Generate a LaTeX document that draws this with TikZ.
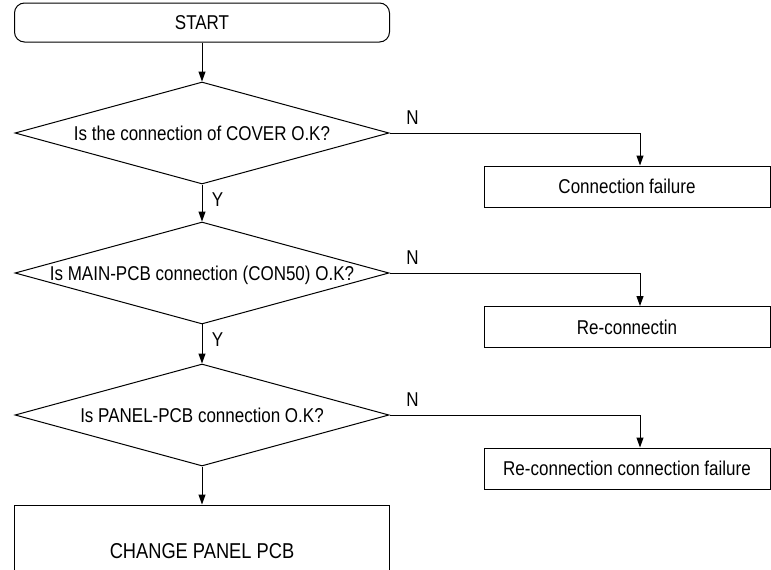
\documentclass[tikz,border=0pt]{standalone}
\usepackage{fontspec}
\setmainfont{Liberation Sans}[FakeStretch=0.85]
\usetikzlibrary{shapes.geometric, arrows.meta, positioning}

\begin{document}
\begin{tikzpicture}[x=1pt, y=-1pt, line width=1pt,
    font=\fontsize{20}{24}\selectfont,
    arr/.style={-{Triangle[length=10pt,width=7pt]}},
    terminal/.style={draw, rectangle, rounded corners=10pt, minimum width=375pt, minimum height=39pt, inner sep=0pt},
    decision/.style={draw, diamond, aspect=3.66, minimum width=374pt, minimum height=102pt, inner sep=0pt, text height=14pt, text depth=0pt},
    action/.style={draw, rectangle, minimum width=286pt, minimum height=41pt, inner sep=0pt}]
        \clip (0,0) rectangle (771,570);

        % main line
        \node[terminal] (start) at (202,22.5) {START};
        \node[decision] (q1) at (202,133) {Is the connection of COVER O.K?};
        \node[decision] (q2) at (202,273) {Is MAIN-PCB connection (CON50) O.K?};
        \node[decision] (q3) at (202,415) {Is PANEL-PCB connection O.K?};
        \node[draw, minimum width=375pt, minimum height=92pt, font=\fontsize{21.5}{26}\selectfont] (change) at (202,551) {CHANGE PANEL PCB};

        % failure boxes
        \node[action] (fail1) at (627,186.5) {Connection failure};
        \node[action] (fail2) at (627,327) {Re-connectin};
        \node[action] (fail3) at (627,468.5) {Re-connection connection failure};

        \draw[arr] (start) -- (q1);
        \draw[arr] (q1) -- node[pos=0.42, right=6pt] {Y} (q2);
        \draw[arr] (q2) -- node[pos=0.4, right=6pt] {Y} (q3);
        \draw[arr] (q3) -- (change);

        \draw[arr] (q1.east) -| ([xshift=13pt]fail1.north);
        \node (n1) at ([shift={(23,-15)}]q1.east) {N};
        \draw[arr] (q2.east) -| ([xshift=13pt]fail2.north);
        \node (n2) at ([shift={(23,-15)}]q2.east) {N};
        \draw[arr] (q3.east) -| ([xshift=13pt]fail3.north);
        \node (n3) at ([shift={(23,-15)}]q3.east) {N};
    \end{tikzpicture}
\end{document}
